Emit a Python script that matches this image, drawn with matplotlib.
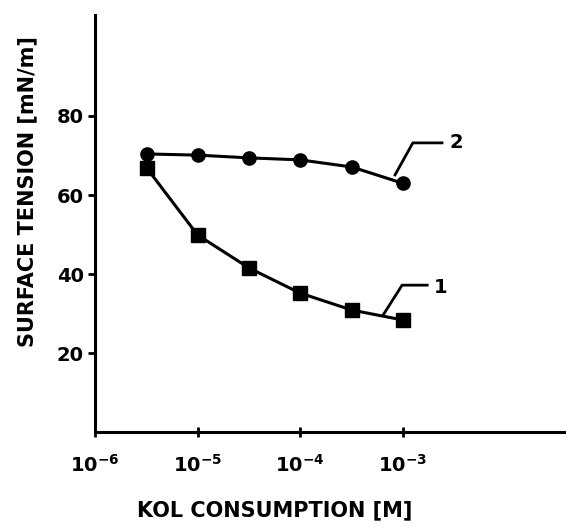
import numpy as np
import matplotlib
matplotlib.use('Agg')
import matplotlib.pyplot as plt

# KOL consumption [M] and surface tension [mN/m]
conc = [3.2e-6, 1e-5, 3.2e-5, 1e-4, 3.2e-4, 1e-3]
tension_1 = [66.8, 49.9, 41.5, 35.2, 30.9, 28.4]
tension_2 = [70.4, 70.1, 69.4, 68.9, 67.1, 63.0]

xticks = [1e-6, 1e-5, 1e-4, 1e-3]
xticklabels = [r'$\mathbf{10^{-6}}$', r'$\mathbf{10^{-5}}$', r'$\mathbf{10^{-4}}$', r'$\mathbf{10^{-3}}$']
yticks = [20, 40, 60, 80]

font = ['Liberation Sans Narrow', 'DejaVu Sans']

fig = plt.figure(figsize=(5.66, 5.29), dpi=100)
ax = fig.add_axes([0.168, 0.183, 0.832, 0.789])

ax.plot(conc, tension_1, '-s', color='black', lw=2.2, ms=10)
ax.plot(conc, tension_2, '-o', color='black', lw=2.2, ms=9.5)

ax.set_xscale('log')
ax.set_xlim(1e-6, 10 ** -1.405)
ax.set_ylim(0, 105.6)

for s in ['top', 'right']:
    ax.spines[s].set_visible(False)
for s in ['left', 'bottom']:
    ax.spines[s].set_linewidth(2.2)

ax.set_xticks(xticks)
ax.set_xticklabels(xticklabels)
ax.xaxis.set_minor_locator(matplotlib.ticker.NullLocator())
ax.set_yticks(yticks)
ax.set_yticklabels([str(v) for v in yticks])
ax.tick_params(axis='x', direction='inout', length=7, width=2, pad=12, labelsize=14)
ax.tick_params(axis='y', direction='out', length=5, width=2, pad=3, labelsize=14)
for lab in ax.get_yticklabels():
    lab.set_fontweight('bold')

# curve labels with leader lines
ax.plot([8.45e-4, 1.26e-3, 2.43e-3], [65.1, 73.2, 73.2], color='black', lw=2)
ax.text(2.9e-3, 73.2, '2', fontsize=14, fontweight='bold', va='center', family=font)
ax.plot([6.45e-4, 9.9e-4, 1.74e-3], [29.6, 37.2, 37.2], color='black', lw=2)
ax.text(2.0e-3, 36.5, '1', fontsize=14, fontweight='bold', va='center', family=font)

fig.text(275 / 566, 1 - 510 / 529, 'KOL CONSUMPTION [M]', ha='center', va='center',
         fontsize=15, fontweight='bold', family=font)
fig.text(27 / 566, 1 - 192 / 529, 'SURFACE TENSION [mN/m]', ha='center', va='center',
         rotation=90, fontsize=15, fontweight='bold', family=font)

fig.savefig('out.png', dpi=100)
